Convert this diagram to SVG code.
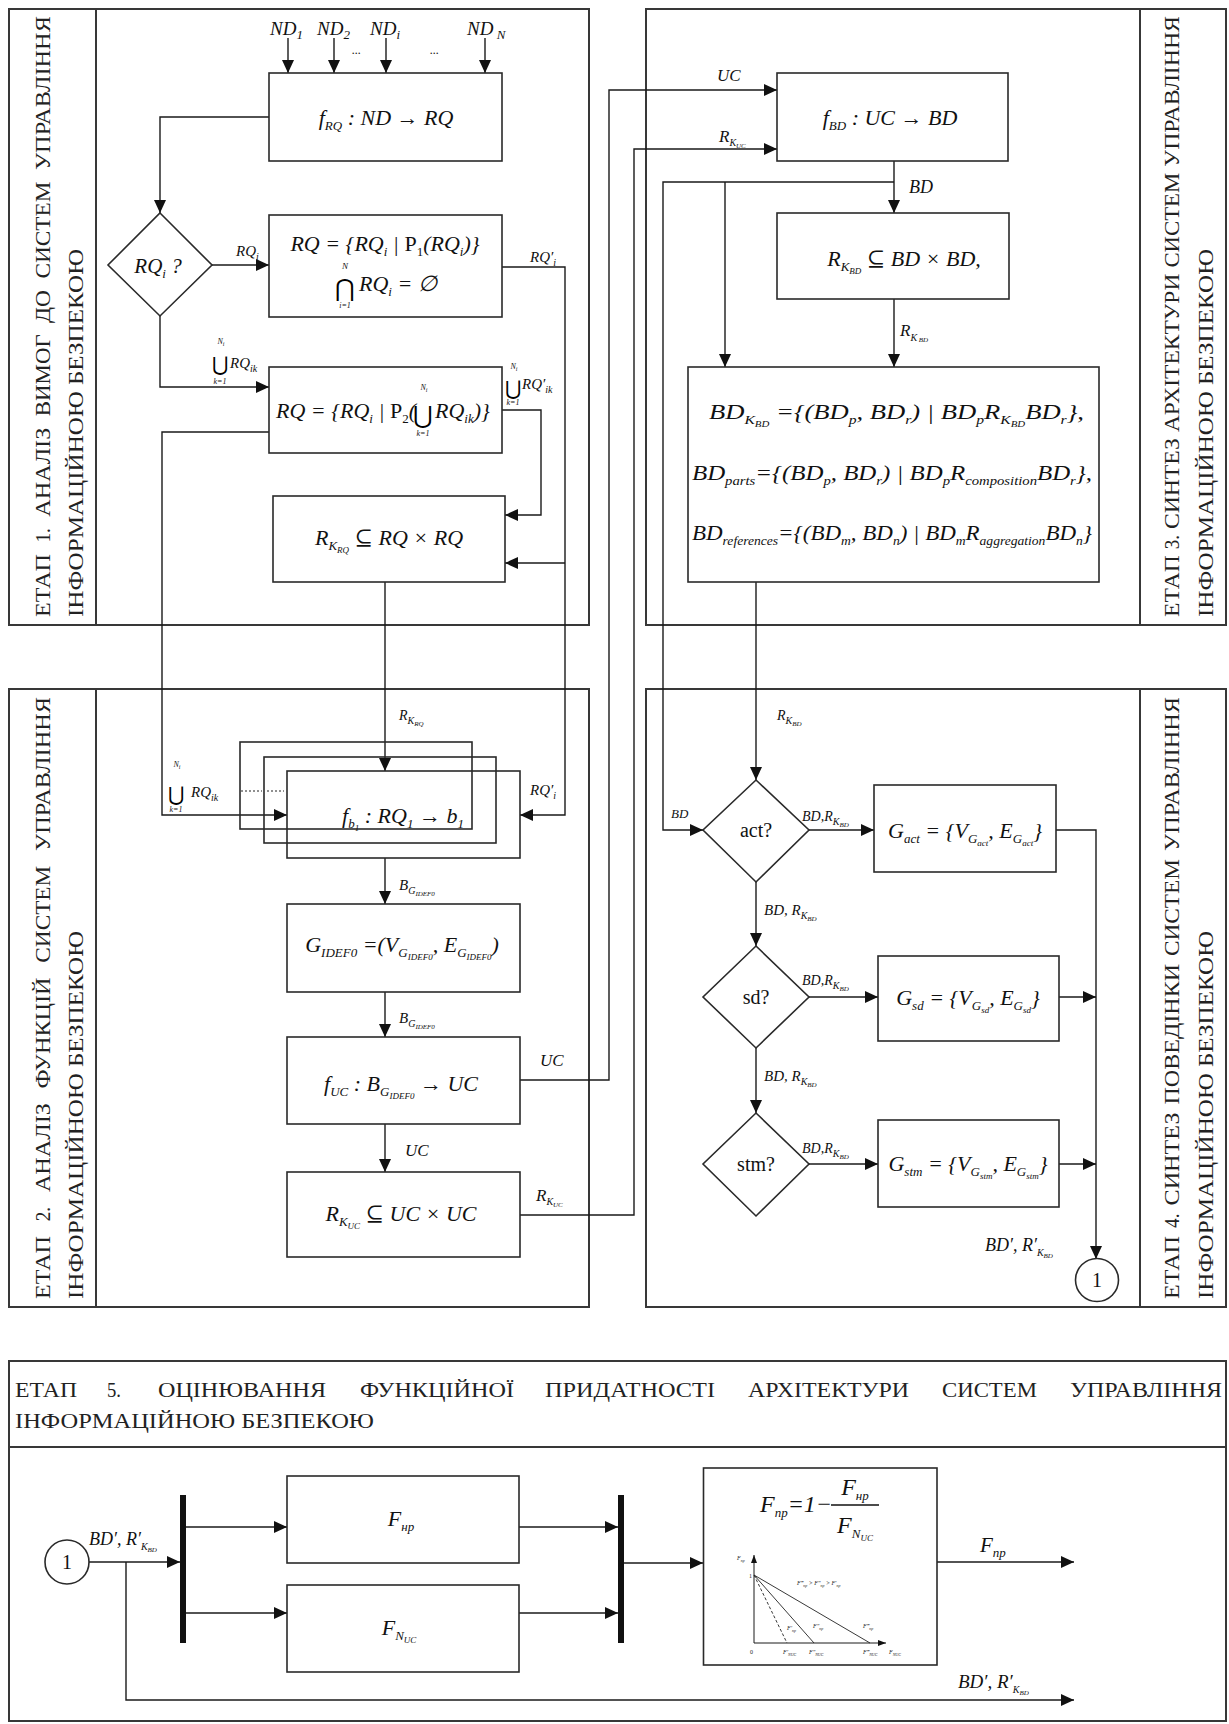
<svg xmlns="http://www.w3.org/2000/svg" width="1229" height="1724" viewBox="0 0 1229 1724">
<defs>
<marker id="a" viewBox="0 0 13 12" refX="13" refY="6" markerWidth="13" markerHeight="12" markerUnits="userSpaceOnUse" orient="auto"><path d="M0,0L13,6L0,12z" fill="#111"/></marker>
<marker id="b" viewBox="0 0 8 6" refX="8" refY="3" markerWidth="8" markerHeight="6" markerUnits="userSpaceOnUse" orient="auto"><path d="M0,0L8,3L0,6z" fill="#111"/></marker>
<style>
.ln{fill:none;stroke:#1a1a1a;stroke-width:1.4}
.ar{marker-end:url(#a)}
.ar2{marker-end:url(#b)}
.bx{fill:#fff;stroke:#2a2a2a;stroke-width:1.6}
.ob{fill:none;stroke:#2a2a2a;stroke-width:1.6}
.pn{fill:none;stroke:#383838;stroke-width:2}
.bar{fill:#111}
text{font-family:'Liberation Serif','DejaVu Serif',serif}
.f{font-family:'Liberation Serif','DejaVu Serif',serif;font-style:italic;font-size:22px;fill:#111}
.l{font-family:'Liberation Serif','DejaVu Serif',serif;font-style:italic;font-size:15px;fill:#111}
.u{font-style:normal}
.s{font-size:13px}
.t{font-size:9px}
.s2{font-size:10px}
.t2{font-size:7px}
.h{font-family:'Liberation Serif','DejaVu Serif',serif;font-size:22px;fill:#222}
.sym{font-family:'DejaVu Serif',serif;font-style:normal}
.c{font-family:'Liberation Serif','DejaVu Serif',serif;font-size:20px;fill:#111;text-anchor:middle}
.tiny{font-family:'Liberation Serif','DejaVu Serif',serif;font-style:italic;font-size:6px;fill:#222}
</style>
</defs>
<rect width="1229" height="1724" fill="#fff"/>

<g id="panels">
<rect class="pn" x="9" y="9" width="580" height="616"/>
<line class="pn" x1="96" y1="9" x2="96" y2="625"/>
<rect class="pn" x="9" y="689" width="580" height="618"/>
<line class="pn" x1="96" y1="689" x2="96" y2="1307"/>
<rect class="pn" x="646" y="9" width="580" height="616"/>
<line class="pn" x1="1140" y1="9" x2="1140" y2="625"/>
<rect class="pn" x="646" y="689" width="580" height="618"/>
<line class="pn" x1="1140" y1="689" x2="1140" y2="1307"/>
<rect class="pn" x="9" y="1361" width="1217" height="360"/>
<line class="pn" x1="9" y1="1447" x2="1226" y2="1447"/>
</g>

<g id="stage-labels" class="h">
<g transform="translate(50,617) rotate(-90)">
<text x="0" y="0" textLength="63" lengthAdjust="spacingAndGlyphs">ЕТАП</text>
<text x="74.4" y="0" textLength="14.5" lengthAdjust="spacingAndGlyphs">1.</text>
<text x="100.3" y="0" textLength="89" lengthAdjust="spacingAndGlyphs">АНАЛІЗ</text>
<text x="200.7" y="0" textLength="82" lengthAdjust="spacingAndGlyphs">ВИМОГ</text>
<text x="294.1" y="0" textLength="33" lengthAdjust="spacingAndGlyphs">ДО</text>
<text x="338.5" y="0" textLength="97" lengthAdjust="spacingAndGlyphs">СИСТЕМ</text>
<text x="446.9" y="0" textLength="154" lengthAdjust="spacingAndGlyphs">УПРАВЛІННЯ</text>
</g>
<text transform="translate(83,617) rotate(-90)" textLength="368" lengthAdjust="spacingAndGlyphs">ІНФОРМАЦІЙНОЮ БЕЗПЕКОЮ</text>

<g transform="translate(50,1299) rotate(-90)">
<text x="0" y="0" textLength="63" lengthAdjust="spacingAndGlyphs">ЕТАП</text>
<text x="77.7" y="0" textLength="14.5" lengthAdjust="spacingAndGlyphs">2.</text>
<text x="106.9" y="0" textLength="89" lengthAdjust="spacingAndGlyphs">АНАЛІЗ</text>
<text x="210.6" y="0" textLength="111" lengthAdjust="spacingAndGlyphs">ФУНКЦІЙ</text>
<text x="336.3" y="0" textLength="97" lengthAdjust="spacingAndGlyphs">СИСТЕМ</text>
<text x="448" y="0" textLength="154" lengthAdjust="spacingAndGlyphs">УПРАВЛІННЯ</text>
</g>
<text transform="translate(83,1299) rotate(-90)" textLength="368" lengthAdjust="spacingAndGlyphs">ІНФОРМАЦІЙНОЮ БЕЗПЕКОЮ</text>

<g transform="translate(1179,617) rotate(-90)">
<text x="0" y="0" textLength="61.7" lengthAdjust="spacingAndGlyphs">ЕТАП</text>
<text x="67.7" y="0" textLength="14.2" lengthAdjust="spacingAndGlyphs">3.</text>
<text x="87.9" y="0" textLength="91" lengthAdjust="spacingAndGlyphs">СИНТЕЗ</text>
<text x="184.9" y="0" textLength="158.5" lengthAdjust="spacingAndGlyphs">АРХІТЕКТУРИ</text>
<text x="349.4" y="0" textLength="94.9" lengthAdjust="spacingAndGlyphs">СИСТЕМ</text>
<text x="450.3" y="0" textLength="150.7" lengthAdjust="spacingAndGlyphs">УПРАВЛІННЯ</text>
</g>
<text transform="translate(1213,617) rotate(-90)" textLength="368" lengthAdjust="spacingAndGlyphs">ІНФОРМАЦІЙНОЮ БЕЗПЕКОЮ</text>

<g transform="translate(1179,1299) rotate(-90)">
<text x="0" y="0" textLength="63" lengthAdjust="spacingAndGlyphs">ЕТАП</text>
<text x="71" y="0" textLength="14.5" lengthAdjust="spacingAndGlyphs">4.</text>
<text x="93.5" y="0" textLength="93" lengthAdjust="spacingAndGlyphs">СИНТЕЗ</text>
<text x="194.5" y="0" textLength="140.5" lengthAdjust="spacingAndGlyphs">ПОВЕДІНКИ</text>
<text x="343" y="0" textLength="97" lengthAdjust="spacingAndGlyphs">СИСТЕМ</text>
<text x="448" y="0" textLength="154" lengthAdjust="spacingAndGlyphs">УПРАВЛІННЯ</text>
</g>
<text transform="translate(1213,1299) rotate(-90)" textLength="368" lengthAdjust="spacingAndGlyphs">ІНФОРМАЦІЙНОЮ БЕЗПЕКОЮ</text>

<text x="15" y="1397" textLength="62" lengthAdjust="spacingAndGlyphs">ЕТАП</text>
<text x="107" y="1397" textLength="14" lengthAdjust="spacingAndGlyphs">5.</text>
<text x="158" y="1397" textLength="168" lengthAdjust="spacingAndGlyphs">ОЦІНЮВАННЯ</text>
<text x="360" y="1397" textLength="154" lengthAdjust="spacingAndGlyphs">ФУНКЦІЙНОЇ</text>
<text x="545" y="1397" textLength="170" lengthAdjust="spacingAndGlyphs">ПРИДАТНОСТІ</text>
<text x="748" y="1397" textLength="161" lengthAdjust="spacingAndGlyphs">АРХІТЕКТУРИ</text>
<text x="942" y="1397" textLength="95" lengthAdjust="spacingAndGlyphs">СИСТЕМ</text>
<text x="1070" y="1397" textLength="152" lengthAdjust="spacingAndGlyphs">УПРАВЛІННЯ</text>
<text x="15" y="1428" textLength="359" lengthAdjust="spacingAndGlyphs">ІНФОРМАЦІЙНОЮ БЕЗПЕКОЮ</text>
</g>

<g id="connectors" class="ln">
<path class="ar" d="M288,38V73"/>
<path class="ar" d="M334,38V73"/>
<path class="ar" d="M386,38V73"/>
<path class="ar" d="M485,38V73"/>
<path class="ar" d="M269,117H160V213"/>
<path class="ar" d="M212,265H269"/>
<path class="ar" d="M502,267H565V815H520"/>
<path class="ar" d="M565,563H505"/>
<path class="ar" d="M160,316V387H269"/>
<path class="ar" d="M502,410H541V515H505"/>
<path class="ar" d="M269,432H162V815H287"/>
<path class="ar" d="M385,582V771"/>
<path class="ar" d="M385,858V904"/>
<path class="ar" d="M385,992V1037"/>
<path class="ar" d="M385,1124V1172"/>
<path class="ar" d="M520,1080H609V90H777"/>
<path class="ar" d="M520,1215H634V149H777"/>
<path class="ar" d="M894,161V213"/>
<path class="ar" d="M894,182H663V830H703"/>
<path class="ar" d="M725,182V367"/>
<path class="ar" d="M894,299V367"/>
<path class="ar" d="M756,582V780"/>
<path class="ar" d="M809,830H874"/>
<path class="ar" d="M1056,830H1096V1259"/>
<path class="ar" d="M756,882V946"/>
<path class="ar" d="M809,997H878"/>
<path class="ar" d="M1059,997H1096"/>
<path class="ar" d="M756,1048V1113"/>
<path class="ar" d="M809,1164H878"/>
<path class="ar" d="M1059,1164H1096"/>
<path class="ar" d="M89,1562H180"/>
<path class="ar" d="M126,1562V1700H1074"/>
<path class="ar" d="M186,1527H287"/>
<path class="ar" d="M186,1613H287"/>
<path class="ar" d="M519,1527H618"/>
<path class="ar" d="M519,1613H618"/>
<path class="ar" d="M624,1563H703"/>
<path class="ar" d="M937,1562H1074"/>
</g>

<g id="connector-labels">
<text class="f" x="270" y="35" style="font-size:19px">ND<tspan class="s" dy="4">1</tspan></text>
<text class="f" x="317" y="35" style="font-size:19px">ND<tspan class="s" dy="4">2</tspan></text>
<text class="f" x="370" y="35" style="font-size:19px">ND<tspan class="s" dy="4">i</tspan></text>
<text class="f" x="467" y="35" style="font-size:19px">ND<tspan class="s" dy="4"> N</tspan></text>
<text class="l" x="352" y="54" style="font-size:12px">...</text>
<text class="l" x="430" y="54" style="font-size:12px">...</text>
<text class="l" x="236" y="256">RQ<tspan class="s2" dy="4">i</tspan></text>
<text class="l" x="530" y="262">RQ′<tspan class="s2" dy="4">i</tspan></text>
<text class="l" x="221" y="344" text-anchor="middle" style="font-size:8px">N<tspan dy="2" style="font-size:6px">i</tspan></text>
<text class="sym" x="220" y="371" text-anchor="middle" style="font-size:20px">⋃</text>
<text class="l" x="220" y="384" text-anchor="middle" style="font-size:8px">k=1</text>
<text class="l" x="230" y="368">RQ<tspan class="s2" dy="4">ik</tspan></text>
<text class="l" x="514" y="369" text-anchor="middle" style="font-size:8px">N<tspan dy="2" style="font-size:6px">i</tspan></text>
<text class="sym" x="513" y="395" text-anchor="middle" style="font-size:20px">⋃</text>
<text class="l" x="513" y="405" text-anchor="middle" style="font-size:8px">k=1</text>
<text class="l" x="522" y="389">RQ′<tspan class="s2" dy="4">ik</tspan></text>
<text class="l" x="399" y="720" style="font-size:14px">R<tspan class="s2" dy="4">K</tspan><tspan class="t2" dy="2">RQ</tspan></text>
<text class="l" x="177" y="767" text-anchor="middle" style="font-size:8px">N<tspan dy="2" style="font-size:6px">i</tspan></text>
<text class="sym" x="176" y="801" text-anchor="middle" style="font-size:20px">⋃</text>
<text class="l" x="176" y="812" text-anchor="middle" style="font-size:8px">k=1</text>
<text class="l" x="191" y="797">RQ<tspan class="s2" dy="4">ik</tspan></text>
<text class="l" x="530" y="795">RQ′<tspan class="s2" dy="4">i</tspan></text>
<text class="l" x="399" y="890">B<tspan class="s2" dy="4">G</tspan><tspan class="t2" dy="2">IDEF0</tspan></text>
<text class="l" x="399" y="1023">B<tspan class="s2" dy="4">G</tspan><tspan class="t2" dy="2">IDEF0</tspan></text>
<text class="l" x="540" y="1066" style="font-size:17px">UC</text>
<text class="l" x="405" y="1156" style="font-size:17px">UC</text>
<text class="l" x="536" y="1201" style="font-size:17px">R<tspan class="s2" dy="4">K</tspan><tspan class="t2" dy="2">UC</tspan></text>
<text class="l" x="717" y="81" style="font-size:17px">UC</text>
<text class="l" x="719" y="142" style="font-size:17px">R<tspan class="s2" dy="4">K</tspan><tspan class="t2" dy="2">UC</tspan></text>
<text class="l" x="909" y="193" style="font-size:18px">BD</text>
<text class="l" x="900" y="336" style="font-size:17px">R<tspan class="s2" dy="5">K</tspan><tspan class="t2" dy="1"> BD</tspan></text>
<text class="l" x="777" y="720" style="font-size:14px">R<tspan class="s2" dy="4">K</tspan><tspan class="t2" dy="2">BD</tspan></text>
<text class="l" x="671" y="818" style="font-size:13px">BD</text>
<text class="l" x="802" y="821" style="font-size:14px">BD,R<tspan class="s2" dy="4">K</tspan><tspan class="t2" dy="2">BD</tspan></text>
<text class="l" x="764" y="915" style="font-size:15px">BD, R<tspan class="s2" dy="4">K</tspan><tspan class="t2" dy="2">BD</tspan></text>
<text class="l" x="802" y="985" style="font-size:14px">BD,R<tspan class="s2" dy="4">K</tspan><tspan class="t2" dy="2">BD</tspan></text>
<text class="l" x="764" y="1081" style="font-size:15px">BD, R<tspan class="s2" dy="4">K</tspan><tspan class="t2" dy="2">BD</tspan></text>
<text class="l" x="802" y="1153" style="font-size:14px">BD,R<tspan class="s2" dy="4">K</tspan><tspan class="t2" dy="2">BD</tspan></text>
<text class="l" x="985" y="1251" style="font-size:18px">BD′, R′<tspan class="s2" dy="5">K</tspan><tspan class="t2" dy="2">BD</tspan></text>
<text class="l" x="89" y="1545" style="font-size:18px">BD′, R′<tspan class="s2" dy="5">K</tspan><tspan class="t2" dy="2">BD</tspan></text>
<text class="l" x="958" y="1688" style="font-size:19px">BD′, R′<tspan class="s2" dy="5">K</tspan><tspan class="t2" dy="2">BD</tspan></text>
<text class="f" x="980" y="1552" style="font-size:21px">F<tspan class="s" dy="5">пр</tspan></text>
</g>

<g id="node-f-rq">
<rect class="bx" x="269" y="73" width="233" height="88"/>
<text class="f" x="386" y="125" text-anchor="middle">f<tspan class="s" dy="5">RQ</tspan><tspan dy="-5"> : ND → RQ</tspan></text>
</g>

<g id="node-decision-rq">
<polygon class="bx" points="160,213 212,265 160,316 108,265"/>
<text class="f" x="158" y="273" text-anchor="middle" style="font-size:21px">RQ<tspan class="s" dy="5">i</tspan><tspan dy="-5"> ?</tspan></text>
</g>

<g id="node-p1">
<rect class="bx" x="269" y="215" width="233" height="102"/>
<text class="f" x="385" y="251" text-anchor="middle">RQ = {RQ<tspan class="s" dy="5">i</tspan><tspan dy="-5"> | </tspan><tspan class="u">P</tspan><tspan class="s u" dy="5">1</tspan><tspan dy="-5">(RQ</tspan><tspan class="s" dy="5">i</tspan><tspan dy="-5">)}</tspan></text>
<text class="l" x="345" y="269" text-anchor="middle" style="font-size:9px">N</text>
<text class="sym" x="345" y="296" text-anchor="middle" style="font-size:24px">⋂</text>
<text class="l" x="345" y="308" text-anchor="middle" style="font-size:8px">i=1</text>
<text class="f" x="359" y="291">RQ<tspan class="s" dy="5">i</tspan><tspan dy="-5"> = ∅</tspan></text>
</g>

<g id="node-p2">
<rect class="bx" x="269" y="367" width="233" height="86"/>
<text class="f" x="276" y="418">RQ = {RQ<tspan class="s" dy="5">i</tspan><tspan dy="-5"> | </tspan><tspan class="u">P</tspan><tspan class="s u" dy="5">2</tspan><tspan dy="-5">(</tspan></text>
<text class="l" x="424" y="390" text-anchor="middle" style="font-size:8px">N<tspan dy="2" style="font-size:6px">i</tspan></text>
<text class="sym" x="423" y="423" text-anchor="middle" style="font-size:24px">⋃</text>
<text class="l" x="423" y="436" text-anchor="middle" style="font-size:8px">k=1</text>
<text class="f" x="435" y="418">RQ<tspan class="s" dy="5">ik</tspan><tspan dy="-5">)}</tspan></text>
</g>

<g id="node-r-krq">
<rect class="bx" x="273" y="496" width="232" height="86"/>
<text class="f" x="389" y="545" text-anchor="middle">R<tspan class="s" dy="5">K</tspan><tspan class="t" dy="3">RQ</tspan><tspan dy="-8"> ⊆ RQ × RQ</tspan></text>
</g>

<g id="node-f-b">
<rect class="ob" x="240" y="742" width="232" height="87"/>
<rect class="ob" x="264" y="757" width="232" height="86"/>
<rect class="ob" x="287" y="771" width="233" height="87"/>
<path d="M241,791H262M267,791H284" stroke="#222" stroke-width="1.2" stroke-dasharray="2 2"/>
<text class="f" x="403" y="823" text-anchor="middle">f<tspan class="s" dy="5">b</tspan><tspan class="t" dy="3">1</tspan><tspan dy="-8"> : RQ</tspan><tspan class="s" dy="5">1</tspan><tspan dy="-5"> → b</tspan><tspan class="s" dy="5">1</tspan></text>
</g>

<g id="node-g-idef0">
<rect class="bx" x="287" y="904" width="233" height="88"/>
<text class="f" x="402" y="952" text-anchor="middle">G<tspan class="s" dy="5">IDEF0</tspan><tspan dy="-5"> =(V</tspan><tspan class="s" dy="5">G</tspan><tspan class="t" dy="3">IDEF0</tspan><tspan dy="-8">, E</tspan><tspan class="s" dy="5">G</tspan><tspan class="t" dy="3">IDEF0</tspan><tspan dy="-8">)</tspan></text>
</g>

<g id="node-f-uc">
<rect class="bx" x="287" y="1037" width="233" height="87"/>
<text class="f" x="401" y="1091" text-anchor="middle">f<tspan class="s" dy="5">UC</tspan><tspan dy="-5"> : B</tspan><tspan class="s" dy="5">G</tspan><tspan class="t" dy="3">IDEF0</tspan><tspan dy="-8"> → UC</tspan></text>
</g>

<g id="node-r-kuc">
<rect class="bx" x="287" y="1172" width="233" height="85"/>
<text class="f" x="401" y="1221" text-anchor="middle">R<tspan class="s" dy="5">K</tspan><tspan class="t" dy="3">UC</tspan><tspan dy="-8"> ⊆ UC × UC</tspan></text>
</g>

<g id="node-f-bd">
<rect class="bx" x="777" y="73" width="231" height="88"/>
<text class="f" x="890" y="125" text-anchor="middle">f<tspan class="s" dy="5">BD</tspan><tspan dy="-5"> : UC → BD</tspan></text>
</g>

<g id="node-r-kbd">
<rect class="bx" x="777" y="213" width="232" height="86"/>
<text class="f" x="904" y="266" text-anchor="middle">R<tspan class="s" dy="5">K</tspan><tspan class="t" dy="3">BD</tspan><tspan dy="-8"> ⊆ BD × BD,</tspan></text>
</g>

<g id="node-bd-kbd">
<rect class="bx" x="688" y="367" width="411" height="215"/>
<text class="f" x="709" y="419" textLength="375" lengthAdjust="spacingAndGlyphs">BD<tspan class="s" dy="5">K</tspan><tspan class="t" dy="3">BD</tspan><tspan dy="-8"> ={(BD</tspan><tspan class="s" dy="5">p</tspan><tspan dy="-5">, BD</tspan><tspan class="s" dy="5">r</tspan><tspan dy="-5">) | BD</tspan><tspan class="s" dy="5">p</tspan><tspan dy="-5">R</tspan><tspan class="s" dy="5">K</tspan><tspan class="t" dy="3">BD</tspan><tspan dy="-8">BD</tspan><tspan class="s" dy="5">r</tspan><tspan dy="-5">},</tspan></text>
<text class="f" x="692" y="480" textLength="400" lengthAdjust="spacingAndGlyphs">BD<tspan class="s" dy="5">parts</tspan><tspan dy="-5">={(BD</tspan><tspan class="s" dy="5">p</tspan><tspan dy="-5">, BD</tspan><tspan class="s" dy="5">r</tspan><tspan dy="-5">) | BD</tspan><tspan class="s" dy="5">p</tspan><tspan dy="-5">R</tspan><tspan class="s" dy="5">composition</tspan><tspan dy="-5">BD</tspan><tspan class="s" dy="5">r</tspan><tspan dy="-5">},</tspan></text>
<text class="f" x="692" y="540" textLength="400" lengthAdjust="spacingAndGlyphs">BD<tspan class="s" dy="5">references</tspan><tspan dy="-5">={(BD</tspan><tspan class="s" dy="5">m</tspan><tspan dy="-5">, BD</tspan><tspan class="s" dy="5">n</tspan><tspan dy="-5">) | BD</tspan><tspan class="s" dy="5">m</tspan><tspan dy="-5">R</tspan><tspan class="s" dy="5">aggregation</tspan><tspan dy="-5">BD</tspan><tspan class="s" dy="5">n</tspan><tspan dy="-5">}</tspan></text>
</g>

<g id="node-act">
<polygon class="bx" points="756,780 809,830 756,882 703,830"/>
<text class="c" x="756" y="837">act?</text>
</g>
<g id="node-g-act">
<rect class="bx" x="874" y="785" width="182" height="87"/>
<text class="f" x="965" y="838" text-anchor="middle">G<tspan class="s" dy="5">act</tspan><tspan dy="-5"> = {V</tspan><tspan class="s" dy="5">G</tspan><tspan class="t" dy="3">act</tspan><tspan dy="-8">, E</tspan><tspan class="s" dy="5">G</tspan><tspan class="t" dy="3">act</tspan><tspan dy="-8">}</tspan></text>
</g>
<g id="node-sd">
<polygon class="bx" points="756,946 809,997 756,1048 703,997"/>
<text class="c" x="756" y="1004">sd?</text>
</g>
<g id="node-g-sd">
<rect class="bx" x="878" y="956" width="181" height="85"/>
<text class="f" x="968" y="1005" text-anchor="middle">G<tspan class="s" dy="5">sd</tspan><tspan dy="-5"> = {V</tspan><tspan class="s" dy="5">G</tspan><tspan class="t" dy="3">sd</tspan><tspan dy="-8">, E</tspan><tspan class="s" dy="5">G</tspan><tspan class="t" dy="3">sd</tspan><tspan dy="-8">}</tspan></text>
</g>
<g id="node-stm">
<polygon class="bx" points="756,1113 809,1164 756,1216 703,1164"/>
<text class="c" x="756" y="1171">stm?</text>
</g>
<g id="node-g-stm">
<rect class="bx" x="878" y="1120" width="181" height="87"/>
<text class="f" x="968" y="1171" text-anchor="middle">G<tspan class="s" dy="5">stm</tspan><tspan dy="-5"> = {V</tspan><tspan class="s" dy="5">G</tspan><tspan class="t" dy="3">stm</tspan><tspan dy="-8">, E</tspan><tspan class="s" dy="5">G</tspan><tspan class="t" dy="3">stm</tspan><tspan dy="-8">}</tspan></text>
</g>
<g id="node-connector-1-out">
<circle class="bx" cx="1097" cy="1280" r="21.5"/>
<text class="c" x="1097" y="1287">1</text>
</g>

<g id="node-connector-1-in">
<circle class="bx" cx="67" cy="1562" r="22"/>
<text class="c" x="67" y="1569">1</text>
</g>
<g id="node-bar-split">
<rect class="bar" x="180" y="1495" width="6" height="148"/>
</g>
<g id="node-f-nr">
<rect class="bx" x="287" y="1476" width="232" height="87"/>
<text class="f" x="401" y="1526" text-anchor="middle">F<tspan class="s" dy="5">нр</tspan></text>
</g>
<g id="node-f-nuc">
<rect class="bx" x="287" y="1585" width="232" height="87"/>
<text class="f" x="399" y="1635" text-anchor="middle">F<tspan class="s" dy="5">N</tspan><tspan class="t" dy="3">UC</tspan></text>
</g>
<g id="node-bar-join">
<rect class="bar" x="618" y="1495" width="6" height="148"/>
</g>
<g id="node-f-pr">
<rect class="bx" x="703.5" y="1468" width="233.5" height="197"/>
<text class="f" x="760" y="1512" style="font-size:24px">F<tspan class="s" dy="5">пр</tspan><tspan dy="-5">=1−</tspan></text>
<line x1="831" y1="1505" x2="879" y2="1505" stroke="#111" stroke-width="1.3"/>
<text class="f" x="855" y="1495" text-anchor="middle" style="font-size:24px">F<tspan class="s" dy="5">нр</tspan></text>
<text class="f" x="855" y="1533" text-anchor="middle" style="font-size:24px">F<tspan class="s" dy="5">N</tspan><tspan class="t" dy="3">UC</tspan></text>
<g id="chart">
<path class="ln ar2" d="M754,1643V1555" style="stroke-width:1"/>
<path class="ln ar2" d="M754,1643H886" style="stroke-width:1"/>
<path d="M754,1575L787,1643" stroke="#222" stroke-width="0.9" stroke-dasharray="3 2" fill="none"/>
<path d="M754,1575L814,1643" stroke="#222" stroke-width="0.9" fill="none"/>
<path d="M754,1575L870,1643" stroke="#222" stroke-width="0.9" fill="none"/>
<text class="tiny" x="737" y="1560">F<tspan dy="1.5" style="font-size:4px">пр</tspan></text>
<text class="tiny" x="749" y="1578" style="font-style:normal">1</text>
<text class="tiny" x="750" y="1654" style="font-style:normal">0</text>
<text class="tiny" x="797" y="1585">F‴<tspan dy="1.5" style="font-size:4px">пр</tspan><tspan dy="-1.5"> &gt; F″</tspan><tspan dy="1.5" style="font-size:4px">пр</tspan><tspan dy="-1.5"> &gt; F′</tspan><tspan dy="1.5" style="font-size:4px">пр</tspan></text>
<text class="tiny" x="787" y="1630">F′<tspan dy="1.5" style="font-size:4px">пр</tspan></text>
<text class="tiny" x="813" y="1628">F″<tspan dy="1.5" style="font-size:4px">пр</tspan></text>
<text class="tiny" x="863" y="1628">F‴<tspan dy="1.5" style="font-size:4px">пр</tspan></text>
<text class="tiny" x="783" y="1654">F′<tspan dy="1.5" style="font-size:4px">NUC</tspan></text>
<text class="tiny" x="809" y="1654">F″<tspan dy="1.5" style="font-size:4px">NUC</tspan></text>
<text class="tiny" x="863" y="1654">F‴<tspan dy="1.5" style="font-size:4px">NUC</tspan></text>
<text class="tiny" x="889" y="1654">F<tspan dy="1.5" style="font-size:4px">NUC</tspan></text>
</g>
</g>
</svg>
